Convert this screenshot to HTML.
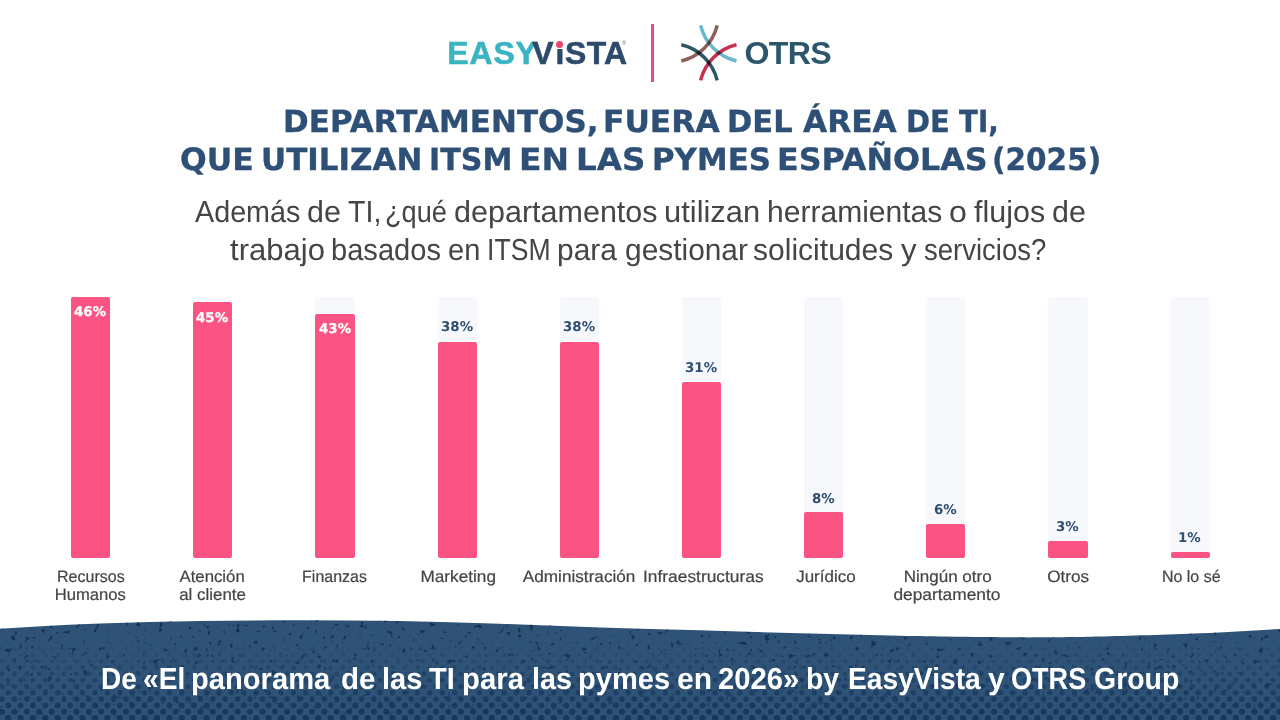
<!DOCTYPE html>
<html lang="es">
<head>
<meta charset="utf-8">
<title>Departamentos que utilizan ITSM en las pymes españolas (2025)</title>
<style>
html,body{margin:0;padding:0;background:#fff;}
body{width:1280px;height:720px;overflow:hidden;font-family:"Liberation Sans",sans-serif;}
#page{position:relative;width:1280px;height:720px;overflow:hidden;background:#fff;}
.abs{position:absolute;white-space:nowrap;line-height:1;}
.abs>span{display:inline-block;transform-origin:0 50%;white-space:nowrap;}
.words>span{position:absolute;top:0;}
/* logos */
#ev{left:447.3px;top:37.7px;font-size:31.9px;font-weight:bold;color:#3ab4c2;letter-spacing:0.9px;-webkit-text-stroke:0.6px currentColor;}
#ev .v{color:#2d4a6b;margin-left:-5.4px;letter-spacing:0.3px;}
#ev .i{margin-left:1.6px;margin-right:0.4px;}
#evmask{position:absolute;left:555.7px;top:39px;width:8.6px;height:10.4px;background:#fff;}
#evdot{position:absolute;left:556.1px;top:41.15px;width:7px;height:7px;border-radius:50%;background:#f0426f;}
#evreg{left:622.3px;top:40.6px;font-size:5px;color:#55677d;}
#sep{position:absolute;left:650.9px;top:24px;width:2.9px;height:58px;background:#ea4c7d;}
#otrs{left:744.6px;top:37.2px;font-size:32.1px;font-weight:bold;color:#2c566b;letter-spacing:-0.7px;}
#otrsicon{position:absolute;left:676px;top:20px;width:66px;height:66px;}
#otrsicon path{fill:none;stroke-width:3.5;stroke-linecap:butt;mix-blend-mode:multiply;}
/* headings */
.title{font-family:"DejaVu Sans","Liberation Sans",sans-serif;font-weight:bold;color:#2e5076;font-size:30.7px;-webkit-text-stroke:0.35px #2e5076;}
.sub{color:#454545;font-size:30.4px;}
/* chart */
.track{position:absolute;top:296.7px;width:39.3px;height:261px;background:#f6f8fc;border-radius:2px;}
.bar{position:absolute;width:39.3px;background:#fb5383;border-radius:2px;}
.val{position:absolute;width:80px;height:22px;line-height:22px;text-align:center;font-family:"DejaVu Sans","Liberation Sans",sans-serif;font-weight:bold;font-size:13.4px;color:#2e4f72;white-space:nowrap;}
.val.in{color:#fff;-webkit-text-stroke:0.25px #fff;}
.val>span{display:inline-block;}
.lab{position:absolute;top:567px;width:160px;text-align:center;color:#444;font-size:16.5px;line-height:18px;-webkit-text-stroke:0.2px #444;white-space:nowrap;}
.lab>span{display:inline-block;transform-origin:50% 50%;}
/* footer */
#foot{position:absolute;left:0;top:610px;width:1280px;height:110px;}
#foottext{color:#fff;font-weight:bold;font-size:30.4px;}

</style>
</head>
<body>
<div id="page">
<div id="ev" class="abs"><span>EASY<span class="v">V<span class="i">i</span>STA</span></span></div>
<div id="evmask"></div>
<div id="evdot"></div>
<div id="evreg" class="abs"><span>®</span></div>
<div id="sep"></div>
<svg id="otrsicon" viewBox="676 20 66 66">
<path d="M700.63 25.4 A48 48 0 0 0 736.5 60.97" stroke="#6ab8cc"/>
<path d="M717.17 25.4 A48 48 0 0 1 681.3 60.97" stroke="#8d5f5a"/>
<path d="M717.17 80.4 A48 48 0 0 0 681.3 44.83" stroke="#2b5769"/>
<path d="M700.63 80.4 A48 48 0 0 1 736.5 44.83" stroke="#c5314f"/>
</svg>
<div id="otrs" class="abs"><span>OTRS</span></div>
<!--T-->
<div class="abs words title" id="t1" style="left:0;top:106.5px"><span style="left:282.85px;transform:scaleX(1.0099) skewX(0.05deg)">DEPARTAMENTOS,</span> <span style="left:602.69px;transform:scaleX(1.0210) skewX(0.05deg)">FUERA</span> <span style="left:726.97px;transform:scaleX(0.9936) skewX(0.05deg)">DEL</span> <span style="left:802.75px;transform:scaleX(1.0174) skewX(0.05deg)">ÁREA</span> <span style="left:906.37px;transform:scaleX(0.9444) skewX(0.05deg)">DE</span> <span style="left:959.20px;transform:scaleX(0.9024) skewX(0.05deg)">TI,</span></div>
<div class="abs words title" id="t2" style="left:0;top:145.4px"><span style="left:180.47px;transform:scaleX(1.0251) skewX(0.05deg)">QUE</span> <span style="left:261.36px;transform:scaleX(1.0099) skewX(0.05deg)">UTILIZAN</span> <span style="left:429.33px;transform:scaleX(0.9812) skewX(0.05deg)">ITSM</span> <span style="left:519.33px;transform:scaleX(1.0732) skewX(0.05deg)">EN</span> <span style="left:575.61px;transform:scaleX(1.0594) skewX(0.05deg)">LAS</span> <span style="left:651.63px;transform:scaleX(1.0053) skewX(0.05deg)">PYMES</span> <span style="left:776.51px;transform:scaleX(1.0339) skewX(0.05deg)">ESPAÑOLAS</span> <span style="left:992.06px;transform:scaleX(0.9627) skewX(0.05deg)">(2025)</span></div>
<!--/T-->
<!--S-->
<div class="abs words sub" id="s1" style="left:0;top:196.4px"><span style="left:194.94px;transform:scaleX(0.9452) skewX(0.05deg)">Además</span> <span style="left:306.65px;transform:scaleX(1.0018) skewX(0.05deg)">de</span> <span style="left:347.50px;transform:scaleX(0.9394) skewX(0.05deg)">TI,</span> <span style="left:384.85px;transform:scaleX(0.8949) skewX(0.05deg)">¿qué</span> <span style="left:453.62px;transform:scaleX(1.0041) skewX(0.05deg)">departamentos</span> <span style="left:663.97px;transform:scaleX(1.0164) skewX(0.05deg)">utilizan</span> <span style="left:766.68px;transform:scaleX(0.9884) skewX(0.05deg)">herramientas</span> <span style="left:949.30px;transform:scaleX(1.0564) skewX(0.05deg)">o</span> <span style="left:974.26px;transform:scaleX(1.0028) skewX(0.05deg)">flujos</span> <span style="left:1051.65px;transform:scaleX(1.0018) skewX(0.05deg)">de</span></div>
<div class="abs words sub" id="s2" style="left:0;top:234.0px"><span style="left:230.18px;transform:scaleX(1.0210) skewX(0.05deg)">trabajo</span> <span style="left:331.40px;transform:scaleX(0.9567) skewX(0.05deg)">basados</span> <span style="left:447.77px;transform:scaleX(0.9544) skewX(0.05deg)">en</span> <span style="left:487.25px;transform:scaleX(0.8754) skewX(0.05deg)">ITSM</span> <span style="left:557.03px;transform:scaleX(0.9848) skewX(0.05deg)">para</span> <span style="left:624.74px;transform:scaleX(0.9833) skewX(0.05deg)">gestionar</span> <span style="left:753.46px;transform:scaleX(0.9887) skewX(0.05deg)">solicitudes</span> <span style="left:900.86px;transform:scaleX(1.0247) skewX(0.05deg)">y</span> <span style="left:923.69px;transform:scaleX(0.9052) skewX(0.05deg)">servicios?</span></div>
<!--/S-->
<div id="chart">
<div class="track" style="left:71.0px"></div>
<div class="bar" style="left:71.0px;top:296.7px;height:261.0px"></div>
<div class="val in" style="left:50.3px;top:300.9px"><span style="transform:skewX(0.05deg)">46%</span></div>
<div class="lab" style="left:10.8px;top:567.3px"><span style="transform:scaleX(0.972) skewX(0.05deg)">Recursos</span></div>
<div class="lab" style="left:10.8px;top:585.3px"><span style="transform:scaleX(1.007) skewX(0.05deg)">Humanos</span></div>
<div class="track" style="left:193.2px"></div>
<div class="bar" style="left:193.2px;top:302.4px;height:255.3px"></div>
<div class="val in" style="left:172.4px;top:306.6px"><span style="transform:skewX(0.05deg)">45%</span></div>
<div class="lab" style="left:132.6px;top:567.3px"><span style="transform:scaleX(1.017) skewX(0.05deg)">Atención</span></div>
<div class="lab" style="left:133.0px;top:585.3px"><span style="transform:scaleX(1.024) skewX(0.05deg)">al cliente</span></div>
<div class="track" style="left:315.3px"></div>
<div class="bar" style="left:315.3px;top:313.7px;height:244.0px"></div>
<div class="val in" style="left:294.6px;top:317.9px"><span style="transform:skewX(0.05deg)">43%</span></div>
<div class="lab" style="left:254.5px;top:567.3px"><span style="transform:scaleX(0.968) skewX(0.05deg)">Finanzas</span></div>
<div class="track" style="left:437.5px"></div>
<div class="bar" style="left:437.5px;top:342.1px;height:215.6px"></div>
<div class="val" style="left:416.8px;top:316.3px"><span style="transform:skewX(0.05deg)">38%</span></div>
<div class="lab" style="left:378.2px;top:567.3px"><span style="transform:scaleX(1.042) skewX(0.05deg)">Marketing</span></div>
<div class="track" style="left:559.7px"></div>
<div class="bar" style="left:559.7px;top:342.1px;height:215.6px"></div>
<div class="val" style="left:538.9px;top:316.3px"><span style="transform:skewX(0.05deg)">38%</span></div>
<div class="lab" style="left:499.2px;top:567.3px"><span style="transform:scaleX(1.04) skewX(0.05deg)">Administración</span></div>
<div class="track" style="left:681.9px"></div>
<div class="bar" style="left:681.9px;top:381.8px;height:175.9px"></div>
<div class="val" style="left:661.1px;top:357.1px"><span style="transform:skewX(0.05deg)">31%</span></div>
<div class="lab" style="left:623.0px;top:567.3px"><span style="transform:scaleX(1.053) skewX(0.05deg)">Infraestructuras</span></div>
<div class="track" style="left:804.0px"></div>
<div class="bar" style="left:804.0px;top:512.3px;height:45.4px"></div>
<div class="val" style="left:783.3px;top:487.8px"><span style="transform:skewX(0.05deg)">8%</span></div>
<div class="lab" style="left:745.9px;top:567.3px"><span style="transform:scaleX(1.029) skewX(0.05deg)">Jurídico</span></div>
<div class="track" style="left:926.2px"></div>
<div class="bar" style="left:926.2px;top:523.7px;height:34.0px"></div>
<div class="val" style="left:905.4px;top:498.7px"><span style="transform:skewX(0.05deg)">6%</span></div>
<div class="lab" style="left:867.3px;top:567.3px"><span style="transform:scaleX(1.03) skewX(0.05deg)">Ningún otro</span></div>
<div class="lab" style="left:867.0px;top:585.3px"><span style="transform:scaleX(1.051) skewX(0.05deg)">departamento</span></div>
<div class="track" style="left:1048.4px"></div>
<div class="bar" style="left:1048.4px;top:540.7px;height:17.0px"></div>
<div class="val" style="left:1027.6px;top:515.8px"><span style="transform:skewX(0.05deg)">3%</span></div>
<div class="lab" style="left:988.2px;top:567.3px"><span style="transform:scaleX(1.038) skewX(0.05deg)">Otros</span></div>
<div class="track" style="left:1170.5px"></div>
<div class="bar" style="left:1170.5px;top:552.0px;height:5.7px"></div>
<div class="val" style="left:1149.8px;top:527.3px"><span style="transform:skewX(0.05deg)">1%</span></div>
<div class="lab" style="left:1111.2px;top:567.3px"><span style="transform:scaleX(0.971) skewX(0.05deg)">No lo sé</span></div>
</div>
<svg id="foot" viewBox="0 610 1280 110" preserveAspectRatio="none">
<defs>
<clipPath id="wave"><path d="M0 628.8 C33.3 626.8 66.7 624.9 100 623.6 C133.3 622.3 166.7 621.7 200 621.1 C233.3 620.5 266.7 620.3 300 620.3 C333.3 620.3 366.7 620.5 400 621.1 C433.3 621.7 466.7 622.8 500 623.8 C533.3 624.8 566.7 626.3 600 627.4 C633.3 628.5 666.7 629.3 700 630.3 C733.3 631.3 766.7 632.3 800 633.2 C833.3 634.1 866.7 635.1 900 635.8 C933.3 636.5 975.0 637.0 1000 637.2 C1025.0 637.5 1033.3 637.4 1050 637.3 C1066.7 637.2 1075.0 637.3 1100 636.6 C1125.0 635.9 1170.0 634.6 1200 633.3 C1230.0 632.0 1253.3 630.5 1280 628.9 L1280 720 L0 720 Z"/></clipPath>
<filter id="speck" x="0" y="0" width="100%" height="100%" color-interpolation-filters="sRGB">
<feTurbulence type="fractalNoise" baseFrequency="0.17" numOctaves="2" seed="11" result="n"/>
<feColorMatrix in="n" type="matrix" values="0 0 0 0 0.07  0 0 0 0 0.19  0 0 0 0 0.34  0 11 0 0 -7.3"/>
</filter>
<linearGradient id="fade" x1="0" y1="620" x2="0" y2="720" gradientUnits="userSpaceOnUse">
<stop offset="0" stop-color="#fff" stop-opacity="1"/><stop offset="0.55" stop-color="#fff" stop-opacity="0.75"/><stop offset="1" stop-color="#fff" stop-opacity="0.25"/>
</linearGradient>
<mask id="fm"><rect x="0" y="610" width="1280" height="110" fill="url(#fade)"/></mask>
</defs>
<path d="M0 628.8 C33.3 626.8 66.7 624.9 100 623.6 C133.3 622.3 166.7 621.7 200 621.1 C233.3 620.5 266.7 620.3 300 620.3 C333.3 620.3 366.7 620.5 400 621.1 C433.3 621.7 466.7 622.8 500 623.8 C533.3 624.8 566.7 626.3 600 627.4 C633.3 628.5 666.7 629.3 700 630.3 C733.3 631.3 766.7 632.3 800 633.2 C833.3 634.1 866.7 635.1 900 635.8 C933.3 636.5 975.0 637.0 1000 637.2 C1025.0 637.5 1033.3 637.4 1050 637.3 C1066.7 637.2 1075.0 637.3 1100 636.6 C1125.0 635.9 1170.0 634.6 1200 633.3 C1230.0 632.0 1253.3 630.5 1280 628.9 L1280 720 L0 720 Z" fill="#2f5376"/>
<g clip-path="url(#wave)">
<g fill="none" stroke="#17375c" stroke-linecap="round" stroke-dasharray="0 12.4">
<path d="M-4.2 718.0H1300" stroke-width="6.24" stroke-opacity="1.00"/>
<path d="M2.0 711.7H1300" stroke-width="6.04" stroke-opacity="0.95"/>
<path d="M-4.2 705.4H1300" stroke-width="5.83" stroke-opacity="0.87"/>
<path d="M2.0 699.1H1300" stroke-width="5.63" stroke-opacity="0.79"/>
<path d="M-4.2 692.8H1300" stroke-width="5.42" stroke-opacity="0.72"/>
<path d="M2.0 686.5H1300" stroke-width="5.20" stroke-opacity="0.64"/>
<path d="M-4.2 680.2H1300" stroke-width="4.98" stroke-opacity="0.56"/>
<path d="M2.0 673.9H1300" stroke-width="4.76" stroke-opacity="0.49"/>
<path d="M-4.2 667.6H1300" stroke-width="4.53" stroke-opacity="0.41"/>
<path d="M2.0 661.3H1300" stroke-width="4.29" stroke-opacity="0.33"/>
<path d="M-4.2 655.0H1300" stroke-width="4.04" stroke-opacity="0.25"/>
<path d="M2.0 648.7H1300" stroke-width="3.79" stroke-opacity="0.18"/>
<path d="M-4.2 642.4H1300" stroke-width="3.52" stroke-opacity="0.10"/>
<path d="M2.0 636.1H1300" stroke-width="3.22" stroke-opacity="0.02"/>
<path d="M-4.2 629.8H1300" stroke-width="2.88" stroke-opacity="0.00"/>
</g>
<g mask="url(#fm)"><rect x="0" y="610" width="1280" height="110" filter="url(#speck)"/></g>
</g>
</svg>
<div class="abs words " id="foottext" style="left:0;top:662.8px"><span style="left:100.54px;transform:scaleX(0.9217) skewX(0.05deg)">De</span> <span style="left:142.61px;transform:scaleX(0.9289) skewX(0.05deg)">«El</span> <span style="left:191.07px;transform:scaleX(0.9585) skewX(0.05deg)">panorama</span> <span style="left:340.89px;transform:scaleX(0.9720) skewX(0.05deg)">de</span> <span style="left:381.95px;transform:scaleX(0.9563) skewX(0.05deg)">las</span> <span style="left:428.71px;transform:scaleX(0.9530) skewX(0.05deg)">TI</span> <span style="left:462.07px;transform:scaleX(0.9648) skewX(0.05deg)">para</span> <span style="left:531.95px;transform:scaleX(0.9466) skewX(0.05deg)">las</span> <span style="left:578.07px;transform:scaleX(0.9574) skewX(0.05deg)">pymes</span> <span style="left:676.98px;transform:scaleX(0.9906) skewX(0.05deg)">en</span> <span style="left:717.98px;transform:scaleX(0.9630) skewX(0.05deg)">2026»</span> <span style="left:806.40px;transform:scaleX(0.9354) skewX(0.05deg)">by</span> <span style="left:847.53px;transform:scaleX(0.9279) skewX(0.05deg)">EasyVista</span> <span style="left:988.28px;transform:scaleX(0.9946) skewX(0.05deg)">y</span> <span style="left:1011.41px;transform:scaleX(0.8912) skewX(0.05deg)">OTRS</span> <span style="left:1094.22px;transform:scaleX(0.9366) skewX(0.05deg)">Group</span></div>
</div>
</body>
</html>
